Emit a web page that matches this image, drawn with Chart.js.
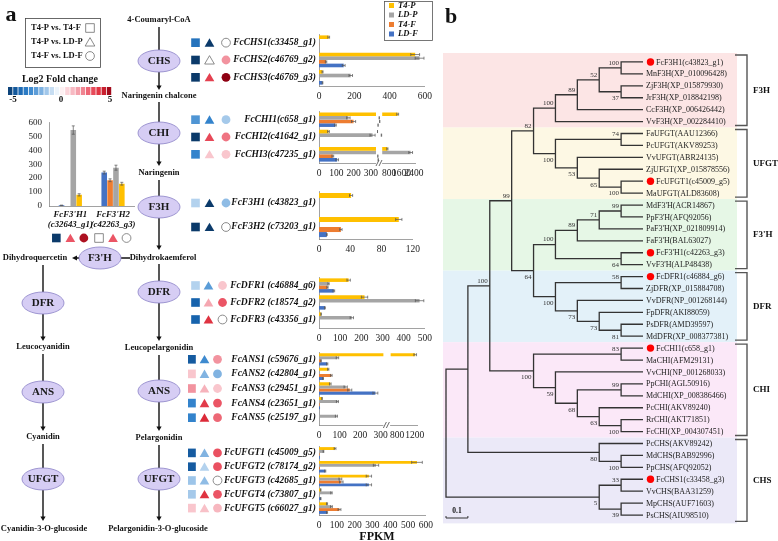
<!DOCTYPE html>
<html>
<head>
<meta charset="utf-8">
<script src="https://cdn.jsdelivr.net/npm/chart.js@4.4.1/dist/chart.umd.min.js"></script>
<style>
html, body { margin: 0; padding: 0; background: #fff; }
#page { position: relative; width: 778px; height: 541px; overflow: hidden; }
#page canvas { position: absolute; display: block; }
</style>
</head>
<body>
<div id="page">
  <canvas id="bg" width="778" height="541" style="left:0;top:0"></canvas>
  <canvas id="cF3ph" width="124" height="134" style="left:15px;top:110px"></canvas>
  <canvas id="cChs" width="249" height="78" style="left:188px;top:24px"></canvas>
  <canvas id="cChiL" width="196" height="78" style="left:188px;top:101px"></canvas>
  <canvas id="cChiR" width="52" height="78" style="left:377px;top:101px"></canvas>
  <canvas id="cF3h" width="237" height="74" style="left:188px;top:181px"></canvas>
  <canvas id="cDfr" width="249" height="77" style="left:188px;top:267px"></canvas>
  <canvas id="cAnsL" width="205" height="99" style="left:188px;top:342px"></canvas>
  <canvas id="cAnsR" width="45" height="99" style="left:385px;top:342px"></canvas>
  <canvas id="cUfgt" width="250" height="95" style="left:188px;top:436px"></canvas>
  <canvas id="cTree" width="338" height="541" style="left:440px;top:0"></canvas>
</div>
<script>
// series, in the order they sit in each gene group (top to bottom)
const seriesNames = ['T4-P', 'LD-P', 'T4-F', 'LD-F'];
const seriesColors = ['#ffc000', '#a5a5a5', '#ed7d31', '#4472c4'];

// FPKM rows are [T4-P, LD-P, T4-F, LD-F]; fold rows are log2FC for
// [T4-P vs T4-F, T4-P vs LD-P, T4-F vs LD-F], null = not significant
const chsGenes = ['FcCHS1(c33458_g1)', 'FcCHS2(c46769_g2)', 'FcCHS3(c46769_g3)'];
const chsFpkm = [[55, 3, 1, 0], [545, 570, 40, 140], [20, 180, 0, 20]];
const chsSd = [[5, 0, 0, 0], [25, 25, 4, 8], [3, 10, 0, 2]];
const chsFold = [[-3.5, -5, null], [-5, null, 2], [-5, 3.5, 5]];

const chiGenes = ['FcCHI1(c658_g1)', 'FcCHI2(c41642_g1)', 'FcCHI3(c47235_g1)'];
const chiFpkm = [[1350, 170, 200, 95], [55, 310, 0, 0], [690, 2180, 80, 105]];
const chiSd = [[60, 10, 12, 5], [5, 15, 0, 0], [40, 120, 5, 8]];
const chiFold = [[-2.5, -3, -1.2], [-5, 3.3, 2.5], [-3, 1, 1]];

const f3hGenes = ['FcF3H1 (c43823_g1)', 'FcF3H2 (c73203_g1)'];
const f3hFpkm = [[41, 0, 0, 0], [102, 0.5, 28, 10]];
const f3hSd = [[2, 0, 0, 0], [4, 0, 1.5, 0.5]];
const f3hFold = [[-1, -5, -1.5], [-5, -5, null]];

const f3phGenes = [["FcF3'H1", '(c32643_g1)'], ["FcF3'H2", '(c42263_g3)']];
const f3phFpkm = [[80, 545, 0, 5], [160, 275, 185, 240]];
const f3phSd = [[8, 30, 0, 1], [10, 18, 10, 10]];
const f3phFold = [[-5, 3, 4.6], [null, 3, null]];

const dfrGenes = ['FcDFR1 (c46884_g6)', 'FcDFR2 (c18574_g2)', 'FcDFR3 (c43356_g1)'];
const dfrFpkm = [[140, 45, 40, 70], [215, 475, 0, 28], [10, 155, 0, 0]];
const dfrSd = [[8, 3, 3, 4], [15, 20, 0, 2], [1, 8, 0, 0]];
const dfrFold = [[-1, -2.3, 1], [-4, 1.6, 3], [-4, 3.8, null]];

const ansGenes = ['FcANS1 (c59676_g1)', 'FcANS2 (c42804_g1)', 'FcANS3 (c29451_g1)', 'FcANS4 (c23651_g1)', 'FcANS5 (c25197_g1)'];
const ansFpkm = [[1210, 90, 10, 40], [45, 5, 60, 20], [55, 130, 150, 275], [15, 90, 3, 5], [0, 85, 0, 0]];
const ansSd = [[30, 6, 1, 3], [3, 0, 4, 2], [4, 8, 10, 12], [1, 5, 0, 0], [0, 5, 0, 0]];
const ansFold = [[-4.2, -2.8, 2], [1, -1.7, -1.7], [2, 1.4, 1], [-3, 3.6, 3], [-3, 4, 2.7]];

const ufgtGenes = ['FcUFGT1 (c45009_g5)', 'FcUFGT2 (c78174_g2)', 'FcUFGT3 (c42685_g1)', 'FcUFGT4 (c73807_g1)', 'FcUFGT5 (c66027_g1)'];
const ufgtFpkm = [[90, 25, 3, 5], [550, 320, 5, 35], [280, 120, 125, 280], [10, 70, 0, 10], [45, 70, 115, 45]];
const ufgtSd = [[5, 2, 0, 0], [30, 15, 0, 3], [15, 8, 10, 15], [1, 4, 0, 1], [3, 5, 8, 3]];
const ufgtFold = [[-4.2, -1.7, 3.1], [-4.2, -1, 3.1], [-1.3, -1.5, null], [-1.2, 3.8, 3], [1, 1.1, 1.3]];

// x axes: [min, max] and tick labels; broken axes have a left and a right part
const chsRange = [0, 600], chsTicks = [0, 200, 400, 600];
const chiRangeL = [0, 330], chiTicksL = [0, 100, 200, 300];
const chiRangeR = [360, 2510], chiTicksR = [800, 1600, 2400];
const f3hRange = [0, 120], f3hTicks = [0, 40, 80, 120];
const dfrRange = [0, 500], dfrTicks = [0, 100, 200, 300, 400, 500];
const ansRangeL = [0, 314], ansTicksL = [0, 100, 200, 300];
const ansRangeR = [650, 1260], ansTicksR = [800, 1200];
const ufgtRange = [0, 600], ufgtTicks = [0, 100, 200, 300, 400, 500, 600];
const f3phRange = [0, 600], f3phTicks = [0, 100, 200, 300, 400, 500, 600];

// log2 fold-change colour scale
const foldStops = [[-5, '#0b3a6a'], [-4, '#1763ad'], [-3, '#3383cc'], [-2, '#6ba6dc'], [-1, '#b3d2ee'], [0, '#ffffff'],
  [1, '#f9c6cd'], [2, '#f2939f'], [3, '#eb5565'], [4, '#dc2a38'], [5, '#8e0012']];

// phylogenetic tree (panel b)
const treeLeaves = [
  'FcF3H1(c43823_g1)', 'MnF3H(XP_010096428)', 'ZjF3H(XP_015879930)', 'JrF3H(XP_018842198)', 'CcF3H(XP_006426442)', 'VvF3H(XP_002284410)',
  'FaUFGT(AAU12366)', 'PcUFGT(AKV89253)', 'VvUFGT(ABR24135)', 'ZjUFGT(XP_015878556)', 'FcUFGT1(c45009_g5)', 'MaUFGT(ALD83608)',
  "MdF3'H(ACR14867)", "PpF3'H(AFQ92056)", "PaF3'H(XP_021809914)", "FaF3'H(BAL63027)", "FcF3'H1(c42263_g3)", "VvF3'H(ALP48438)",
  'FcDFR1(c46884_g6)', 'ZjDFR(XP_015884708)', 'VvDFR(NP_001268144)', 'FpDFR(AKI88059)', 'PsDFR(AMD39597)', 'MdDFR(XP_008377381)',
  'FcCHI1(c658_g1)', 'MaCHI(AFM29131)', 'VvCHI(NP_001268033)', 'PpCHI(AGL50916)', 'MdCHI(XP_008386466)', 'PcCHI(AKV89240)', 'RrCHI(AKT71851)', 'FcCHI(XP_004307451)',
  'PcCHS(AKV89242)', 'MdCHS(BAB92996)', 'PpCHS(AFQ92052)', 'FcCHS1(c33458_g3)', 'VvCHS(BAA31259)', 'MpCHS(AUF71603)', 'PsCHS(AIU98510)'
];
const treeMarked = [0, 10, 16, 18, 24, 35];
// internal nodes: id, depth from root, [children], bootstrap
const treeNodes = [
  ['A1', 0.8, [0, 1], 100], ['A2', 0.8, [2, 3], 37], ['A3', 0.7, ['A1', 'A2'], 52],
  ['A4', 0.6, ['A3', 4], 89], ['A5', 0.5, ['A4', 5], 100],
  ['B1', 0.8, [6, 7], 74], ['B4', 0.8, [10, 11], 100], ['B3', 0.7, [9, 'B4'], 65],
  ['B2', 0.6, [8, 'B3'], 53], ['B0', 0.5, ['B1', 'B2'], 100], ['N4', 0.4, ['A5', 'B0'], 82],
  ['C1', 0.8, [12, 13], 99], ['C2', 0.7, ['C1', 14], 71], ['C3', 0.6, ['C2', 15], 89],
  ['C5', 0.8, [16, 17], 64], ['C4', 0.5, ['C3', 'C5'], 100],
  ['D1', 0.8, [18, 19], 58], ['D4', 0.8, [22, 23], 81], ['D3', 0.7, [21, 'D4'], 73],
  ['D2', 0.6, [20, 'D3'], 73], ['D0', 0.5, ['D1', 'D2'], 100], ['N5', 0.4, ['C4', 'D0'], 64],
  ['N3', 0.3, ['N4', 'N5'], 99],
  ['E1', 0.8, [24, 25], 83], ['E4', 0.8, [27, 28], 99], ['E6', 0.8, [30, 31], 100],
  ['E5', 0.7, [29, 'E6'], 63], ['E3', 0.6, ['E4', 'E5'], 68], ['E2', 0.5, [26, 'E3'], 59],
  ['E0', 0.4, ['E1', 'E2'], 100], ['N2', 0.2, ['N3', 'E0'], 100],
  ['F2', 0.8, [33, 34], 100], ['F1', 0.7, [32, 'F2'], 80], ['N1', 0.1, ['N2', 'F1'], null],
  ['F3', 0.8, [35, 36], 33], ['F4', 0.8, [37, 38], 39], ['F5', 0.7, ['F3', 'F4'], 5],
  ['root', 0, ['N1', 'F5'], null]
];
const clades = [['F3H', 0, 5], ['UFGT', 6, 11], ["F3'H", 12, 17], ['DFR', 18, 23], ['CHI', 24, 31], ['CHS', 32, 38]];

const SERIF = '"Liberation Serif", "Times New Roman", serif';
Chart.defaults.font.family = SERIF;
Chart.defaults.color = '#222';

function hex2rgb(h) { return [1, 3, 5].map(i => parseInt(h.slice(i, i + 2), 16)); }
function foldColor(v) {
  v = Math.max(-5, Math.min(5, v));
  for (let k = 0; k < foldStops.length - 1; k++) {
    const [v0, c0] = foldStops[k], [v1, c1] = foldStops[k + 1];
    if (v <= v1) {
      const t = (v - v0) / (v1 - v0), a = hex2rgb(c0), b = hex2rgb(c1);
      return 'rgb(' + a.map((c, j) => Math.round(c + (b[j] - c) * t)).join(',') + ')';
    }
  }
}

const shapes = [['rect', 6.1], ['triangle', 5.6], ['circle', 4.4]];
function drawShape(ctx, k, x, y, fill) {
  const [style, r] = shapes[k];
  const hollow = fill === null;
  ctx.fillStyle = hollow ? '#fff' : fill;
  ctx.strokeStyle = '#6f6f6f';
  ctx.lineWidth = 0.8;
  const yy = style === 'triangle' ? y + r * 0.22 : y;
  Chart.helpers.drawPoint(ctx, {pointStyle: style, radius: r, rotation: 0, borderWidth: hollow ? 0.8 : 0}, x, yy);
}
// square / triangle / circle for one gene
function drawFoldRow(ctx, xs, y, row) {
  row.forEach((v, k) => drawShape(ctx, k, xs[k], y, v === null ? null : foldColor(v)));
}

const errorBars = {
  id: 'errorBars',
  afterDatasetsDraw(chart, args, opts) {
    const {ctx, chartArea} = chart;
    const horiz = chart.options.indexAxis === 'y';
    const vs = horiz ? chart.scales.x : chart.scales.y;
    ctx.save();
    if (opts.clip) {
      ctx.beginPath();
      ctx.rect(chartArea.left, chartArea.top - 3, chartArea.width, chartArea.height + 6);
      ctx.clip();
    }
    ctx.strokeStyle = '#555';
    ctx.lineWidth = 0.7;
    chart.data.datasets.forEach((ds, di) => {
      chart.getDatasetMeta(di).data.forEach((bar, i) => {
        const v = ds.data[i], e = ds.sd[i];
        if (!e) return;
        const p1 = vs.getPixelForValue(v - e), p2 = vs.getPixelForValue(v + e);
        ctx.beginPath();
        if (horiz) {
          const y = bar.y;
          ctx.moveTo(p1, y); ctx.lineTo(p2, y);
          ctx.moveTo(p1, y - 1.5); ctx.lineTo(p1, y + 1.5);
          ctx.moveTo(p2, y - 1.5); ctx.lineTo(p2, y + 1.5);
        } else {
          const x = bar.x;
          ctx.moveTo(x, p1); ctx.lineTo(x, p2);
          ctx.moveTo(x - 1.5, p1); ctx.lineTo(x + 1.5, p1);
          ctx.moveTo(x - 1.5, p2); ctx.lineTo(x + 1.5, p2);
        }
        ctx.stroke();
      });
    });
    ctx.restore();
  }
};

const foldRows = {
  id: 'foldRows',
  afterDraw(chart, args, opts) {
    if (!opts.rows) return;
    const y = chart.scales.y;
    opts.rows.forEach((row, i) => drawFoldRow(chart.ctx, opts.xs, y.getPixelForValue(i), row));
  }
};

const breakMark = {
  id: 'breakMark',
  afterDraw(chart, args, opts) {
    if (!opts.show) return;
    const {ctx, chartArea} = chart;
    const x = chartArea.right + 1, y = chartArea.bottom;
    ctx.save();
    ctx.fillStyle = '#fff';
    ctx.fillRect(x - 1, y - 2, 6, 4);
    ctx.strokeStyle = '#444';
    ctx.lineWidth = 0.8;
    ctx.beginPath();
    ctx.moveTo(x - 1, y + 3); ctx.lineTo(x + 2, y - 3);
    ctx.moveTo(x + 2, y + 3); ctx.lineTo(x + 5, y - 3);
    ctx.stroke();
    ctx.restore();
  }
};

function barChart(id, genes, fpkm, sd, fold, range, ticks, part, symX) {
  const datasets = seriesNames.map((name, s) => ({
    label: name,
    data: fpkm.map(r => r[s]),
    sd: sd.map(r => r[s]),
    backgroundColor: seriesColors[s],
    categoryPercentage: 0.84,
    barPercentage: 1
  }));
  const pad = part === 'right' ? {top: 10, left: 3, right: 10, bottom: 0}
    : part === 'left' ? {top: 10, left: 0, right: 8, bottom: 0}
    : {top: 10, left: 0, right: 12, bottom: 0};
  const yAxis = {
    display: part !== 'right',
    grid: {display: false, drawTicks: false},
    border: {display: true, color: '#8a8a8a', width: 0.8},
    ticks: {padding: 3, autoSkip: false, font: {size: 9.5, style: 'italic', weight: 'bold'}, color: '#111'}
  };
  if (part !== 'right') yAxis.afterFit = s => { s.width = 131; };
  return new Chart(document.getElementById(id), {
    type: 'bar',
    data: {labels: genes, datasets},
    options: {
      indexAxis: 'y',
      responsive: false,
      animation: false,
      layout: {padding: pad},
      plugins: {
        legend: {display: false},
        tooltip: {enabled: false},
        errorBars: {clip: part === 'left'},
        foldRows: {rows: part === 'right' ? null : fold, xs: symX},
        breakMark: {show: part === 'left'}
      },
      scales: {
        x: {
          min: range[0], max: range[1],
          grid: {display: false, drawTicks: false},
          border: {display: true, color: '#8a8a8a', width: 0.8},
          ticks: {autoSkip: false, maxRotation: 0, minRotation: 0, padding: 5, font: {size: 9.5}, color: '#222', callback: v => String(v)},
          afterBuildTicks: s => { s.ticks = ticks.map(v => ({value: v})); },
          afterFit: s => { s.height = 16; }
        },
        y: yAxis
      }
    },
    plugins: [errorBars, foldRows, breakMark]
  });
}

const symWide = [7.5, 21.5, 38], symMid = [7.5, 20.5, 34.5], symTight = [3.5, 16.5, 29.5];
barChart('cChs', chsGenes, chsFpkm, chsSd, chsFold, chsRange, chsTicks, 'full', symWide);
barChart('cChiL', chiGenes, chiFpkm, chiSd, chiFold, chiRangeL, chiTicksL, 'left', symWide);
barChart('cChiR', chiGenes, chiFpkm, chiSd, chiFold, chiRangeR, chiTicksR, 'right', symWide);
barChart('cF3h', f3hGenes, f3hFpkm, f3hSd, f3hFold, f3hRange, f3hTicks, 'full', symWide);
barChart('cDfr', dfrGenes, dfrFpkm, dfrSd, dfrFold, dfrRange, dfrTicks, 'full', symMid);
barChart('cAnsL', ansGenes, ansFpkm, ansSd, ansFold, ansRangeL, ansTicksL, 'left', symTight);
barChart('cAnsR', ansGenes, ansFpkm, ansSd, ansFold, ansRangeR, ansTicksR, 'right', symTight);
barChart('cUfgt', ufgtGenes, ufgtFpkm, ufgtSd, ufgtFold, ufgtRange, ufgtTicks, 'full', symTight);

// F3'H inset: vertical bars, LD-F first
new Chart(document.getElementById('cF3ph'), {
  type: 'bar',
  data: {
    labels: f3phGenes,
    datasets: [3, 2, 1, 0].map(s => ({
      label: seriesNames[s],
      data: f3phFpkm.map(r => r[s]),
      sd: f3phSd.map(r => r[s]),
      backgroundColor: seriesColors[s],
      categoryPercentage: 0.55,
      barPercentage: 0.95
    }))
  },
  options: {
    responsive: false,
    animation: false,
    layout: {padding: {top: 6, right: 2, left: 0, bottom: 12}},
    plugins: {legend: {display: false}, tooltip: {enabled: false}, errorBars: {clip: false}},
    scales: {
      x: {
        grid: {display: false, drawTicks: false},
        border: {display: true, color: '#8a8a8a', width: 0.8},
        ticks: {padding: 3, autoSkip: false, maxRotation: 0, font: {size: 8.8, style: 'italic', weight: 'bold'}, color: '#111'},
        afterFit: s => { s.height = 26; }
      },
      y: {
        min: f3phRange[0], max: f3phRange[1],
        grid: {display: false, drawTicks: false},
        border: {display: true, color: '#8a8a8a', width: 0.8},
        ticks: {padding: 7, autoSkip: false, font: {size: 9}, color: '#222'},
        afterBuildTicks: s => { s.ticks = f3phTicks.map(v => ({value: v})); },
        afterFit: s => { s.width = 34; }
      }
    }
  },
  plugins: [errorBars, {
    id: 'insetFold',
    afterDraw(chart) {
      const x = chart.scales.x, yb = chart.chartArea.bottom + 32;
      f3phFold.forEach((row, i) => {
        const c = x.getPixelForValue(i);
        drawFoldRow(chart.ctx, [c - 14, c, c + 13.5], yb, row);
      });
    }
  }]
});

// ---- tree ----
const nodePos = {};
treeLeaves.forEach((n, i) => { nodePos[i] = {x: 0.9, y: i}; });
const parentOf = {};
treeNodes.forEach(([id, depth, kids]) => {
  const ys = kids.map(k => nodePos[k].y);
  nodePos[id] = {x: depth, y: (ys[0] + ys[ys.length - 1]) / 2};
  kids.forEach((k, j) => { parentOf[k] = j; });
});
const branchPts = [];
treeNodes.forEach(([id, depth, kids]) => {
  const a = nodePos[kids[0]], b = nodePos[kids[1]];
  branchPts.push({x: a.x, y: a.y}, {x: depth, y: a.y}, {x: depth, y: b.y}, {x: b.x, y: b.y}, {x: null, y: null});
});
const bandColors = ['#fce5e5', '#fdf8e4', '#e6f7e6', '#e3f1f9', '#fbe8f8', '#ebe9f8'];

const treeDeco = {
  id: 'treeDeco',
  beforeDatasetsDraw(chart) {
    const {ctx, scales: {y}} = chart;
    clades.forEach(([name, a, b], k) => {
      const t = y.getPixelForValue(k === 0 ? a - 0.75 : a - 0.5);
      const btm = y.getPixelForValue(k === clades.length - 1 ? b + 0.7 : b + 0.5);
      ctx.fillStyle = bandColors[k];
      ctx.fillRect(3, t, 294, btm - t);
    });
  },
  afterDatasetsDraw(chart) {
    const {ctx, scales: {x, y}} = chart;
    ctx.save();
    ctx.textBaseline = 'middle';
    // leaf labels
    const xl = x.getPixelForValue(0.9);
    treeLeaves.forEach((name, i) => {
      const py = y.getPixelForValue(i);
      let tx = xl + 3;
      if (treeMarked.includes(i)) {
        ctx.fillStyle = '#f00';
        ctx.beginPath(); ctx.arc(xl + 7.5, py, 3.7, 0, Math.PI * 2); ctx.fill();
        tx = xl + 13;
      }
      ctx.fillStyle = '#222';
      ctx.font = '8px ' + SERIF;
      ctx.textAlign = 'left';
      ctx.fillText(name, tx, py + 0.5);
    });
    // bootstrap values
    ctx.font = '7px ' + SERIF;
    ctx.fillStyle = '#333';
    ctx.textAlign = 'right';
    treeNodes.forEach(([id, depth, kids, bs]) => {
      if (bs === null || parentOf[id] === undefined) return;
      const p = nodePos[id];
      const px = x.getPixelForValue(p.x) - 2, py = y.getPixelForValue(p.y);
      ctx.fillText(String(bs), px, parentOf[id] === 0 ? py - 5 : py + 6.5);
    });
    // clade brackets
    ctx.strokeStyle = '#555';
    ctx.lineWidth = 1.4;
    ctx.font = 'bold 9px ' + SERIF;
    ctx.fillStyle = '#111';
    ctx.textAlign = 'left';
    clades.forEach(([name, a, b], k) => {
      const t = y.getPixelForValue(k === 0 ? a - 0.75 : a - 0.5) + 2;
      const btm = y.getPixelForValue(k === clades.length - 1 ? b + 0.7 : b + 0.5) - 2;
      ctx.beginPath();
      ctx.moveTo(295, t); ctx.lineTo(307, t); ctx.lineTo(307, btm); ctx.lineTo(295, btm);
      ctx.stroke();
      ctx.fillText(name, 313, (t + btm) / 2);
    });
    // scale bar
    const s0 = x.getPixelForValue(0), s1 = x.getPixelForValue(0.1), sy = 518;
    ctx.lineWidth = 1;
    ctx.strokeStyle = '#333';
    ctx.beginPath();
    ctx.moveTo(s0, sy - 2); ctx.lineTo(s0, sy); ctx.lineTo(s1, sy); ctx.lineTo(s1, sy - 2);
    ctx.stroke();
    ctx.font = 'bold 7.5px ' + SERIF;
    ctx.textAlign = 'center';
    ctx.fillText('0.1', (s0 + s1) / 2, sy - 7);
    ctx.restore();
  }
};

new Chart(document.getElementById('cTree'), {
  type: 'scatter',
  data: {datasets: [{data: branchPts, showLine: true, spanGaps: false, borderColor: '#333', borderWidth: 1.3, pointRadius: 0, clip: false}]},
  options: {
    responsive: false,
    animation: false,
    layout: {padding: {left: 6, right: 135, top: 56, bottom: 20}},
    plugins: {legend: {display: false}, tooltip: {enabled: false}},
    scales: {
      x: {type: 'linear', min: 0, max: 0.9, display: false},
      y: {type: 'linear', min: -0.5, max: 38.5, reverse: true, display: false}
    }
  },
  plugins: [treeDeco]
});

// ---- pathway diagram, legends and panel labels ----
const bg = document.getElementById('bg').getContext('2d');
function txt(t, x, y, font, align, color) {
  bg.font = font + ' ' + SERIF;
  bg.textAlign = align || 'center';
  bg.textBaseline = 'middle';
  bg.fillStyle = color || '#111';
  bg.fillText(t, x, y);
}
function arrowDown(x, y1, y2) {
  bg.strokeStyle = '#111'; bg.lineWidth = 1.4;
  bg.beginPath(); bg.moveTo(x, y1); bg.lineTo(x, y2 - 3); bg.stroke();
  bg.fillStyle = '#111';
  bg.beginPath(); bg.moveTo(x - 2.6, y2 - 4.5); bg.lineTo(x + 2.6, y2 - 4.5); bg.lineTo(x, y2); bg.closePath(); bg.fill();
}
function enzyme(label, cx, cy) {
  bg.beginPath(); bg.ellipse(cx, cy, 21, 11, 0, 0, Math.PI * 2);
  bg.fillStyle = '#d6cdf4'; bg.fill();
  bg.strokeStyle = '#8c83c6'; bg.lineWidth = 0.8; bg.stroke();
  txt(label, cx, cy + 0.5, 'bold 11px', 'center', '#1a1a1a');
}

txt('a', 11, 15, 'bold 22px');
txt('b', 451, 17, 'bold 22px');

// comparison legend
bg.strokeStyle = '#444'; bg.lineWidth = 0.8;
bg.strokeRect(25.5, 18.5, 75, 49);
['T4-P vs. T4-F', 'T4-P vs. LD-P', 'T4-F vs. LD-F'].forEach((t, k) => {
  txt(t, 31, 28 + k * 14, 'bold 8.5px', 'left');
  drawShape(bg, k, 90, 28 + k * 14, null);
});

// colour scale
txt('Log2 Fold change', 60, 79, 'bold 10px');
for (let k = 0; k < 20; k++) {
  bg.fillStyle = foldColor(-5 + (k + 0.5) * 0.5);
  bg.fillRect(8 + k * 5.2, 87, 4.4, 8);
}
txt('-5', 13, 100, 'bold 9px');
txt('0', 61, 100, 'bold 9px');
txt('5', 110, 100, 'bold 9px');

// main pathway
arrowDown(159, 27, 90); arrowDown(159, 102, 166); arrowDown(159, 180, 250);
arrowDown(159, 264, 341); arrowDown(159, 355, 431); arrowDown(159, 445, 521);
arrowDown(43, 265, 341); arrowDown(43, 354, 431); arrowDown(43, 444, 521);
bg.strokeStyle = '#111'; bg.lineWidth = 1.4;
bg.beginPath(); bg.moveTo(130, 258); bg.lineTo(76, 258); bg.stroke();
bg.fillStyle = '#111';
bg.beginPath(); bg.moveTo(77, 255.4); bg.lineTo(77, 260.6); bg.lineTo(72, 258); bg.closePath(); bg.fill();

txt('4-Coumaryl-CoA', 159, 20, 'bold 8.5px');
txt('Naringenin chalcone', 159, 96, 'bold 8.5px');
txt('Naringenin', 159, 173, 'bold 8.5px');
txt('Dihydrokaemferol', 163, 258, 'bold 8.5px');
txt('Leucopelargonidin', 159, 348, 'bold 8.5px');
txt('Pelargonidin', 159, 438, 'bold 8.5px');
txt('Pelargonidin-3-O-glucoside', 158, 529, 'bold 8.5px');
txt('Dihydroquercetin', 35, 258, 'bold 8.5px');
txt('Leucocyanidin', 43, 347, 'bold 8.5px');
txt('Cyanidin', 43, 437, 'bold 8.5px');
txt('Cyanidin-3-O-glucoside', 44, 529, 'bold 8.5px');

enzyme('CHS', 159, 61); enzyme('CHI', 159, 133); enzyme('F3H', 159, 207);
enzyme('DFR', 159, 292); enzyme('ANS', 159, 391); enzyme('UFGT', 159, 479);
enzyme("F3'H", 100, 258); enzyme('DFR', 43, 303); enzyme('ANS', 43, 392); enzyme('UFGT', 43, 479);

// series legend
bg.strokeStyle = '#555'; bg.lineWidth = 0.8;
bg.strokeRect(384.5, 1.5, 48, 39);
seriesNames.forEach((n, k) => {
  bg.fillStyle = seriesColors[k];
  bg.fillRect(389, 3 + k * 9.5, 5, 5);
  txt(n, 398, 5.5 + k * 9.5, 'italic bold 8.5px', 'left');
});

txt('FPKM', 377, 537, 'bold 12px');
</script>
</body>
</html>
